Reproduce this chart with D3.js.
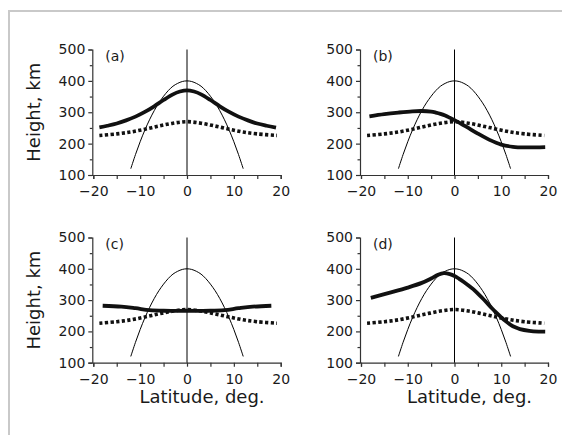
<!DOCTYPE html>
<html><head><meta charset="utf-8">
<script src="https://cdn.jsdelivr.net/npm/d3@7"></script>
<style>
html,body{margin:0;padding:0;background:#fff;}
svg{display:block;}
text{font-family:"DejaVu Sans",sans-serif;fill:#1a1a1a;}
</style></head>
<body>
<svg id="chart" width="562" height="435"></svg>
<script>
// ---------- data ----------
const latTicks = [-20, -10, 0, 10, 20];
const latMinorTicks = [-20, -15, -10, -5, 0, 5, 10, 15, 20];
const heightTicks = [100, 200, 300, 400, 500];
const heightMinorTicks = [150, 250, 350, 450];
const panelLabels = ["(a)", "(b)", "(c)", "(d)"];

// thin parabola (same in all panels)
const parabolaLat = [-12,-11,-10,-9,-8,-7,-6,-5,-4,-3,-2,-1,0,1,2,3,4,5,6,7,8,9,10,11,12];
const parabolaH   = [120,165,206,243,276,305,330,351,369,383,392,398,400,398,392,383,369,351,330,305,276,243,206,165,120];

// dotted reference curve (same in all panels)
const dottedLat = [-18.7,-15,-12,-9,-6,-3,0,3,6,9,12,15,19.2];
const dottedH   = [226,231,237,246,256,265,270,265,256,246,237,231,226];

// thick solid curves
const solidLatA = [-18.7,-17,-15,-13,-11,-9,-7,-5,-3,-1.5,0,1.5,3,5,7,9,11,13,15,17,19];
const solidHA   = [252,257,264,274,286,301,319,339,357,366,370,366,357,339,319,301,286,274,264,257,251];
const solidLatB = [-18.2,-15,-12,-9,-7,-5,-4,-3,-2,-1,0,2.5,5,7.5,10,12.5,15,19.4];
const solidHB   = [287,294,299,303,304,302,299,295,289.5,282.5,275,254,232,212,197,190,188,189];
const solidLatC = [-18,-14,-11,-8,-5,0,5,8,11,14,18];
const solidHC   = [282,279,274,268,266,266,266,268,274,279,282];
const solidLatD = [-17.9,-14,-10,-7,-5,-3.5,-2.3,-1,0,1,2,3,4,5,6,7,8,9,10,11,12,13,14,16,18,19.4];
const solidHD   = [307,323,340,355,369,381,386,383,377,368,358,347,335,321,306,290,274,259,245,232,221,213,207.5,202,199.5,199];

const solidLat = [solidLatA, solidLatB, solidLatC, solidLatD];
const solidH = [solidHA, solidHB, solidHC, solidHD];

// ---------- layout ----------
const svg = d3.select("#chart");
const colX = [[93.3, 280.7], [361, 548]];
const rowY = [[175, 49.5], [362.7, 237.5]];

// frame
svg.append("path")
  .attr("d", "M9,440 L9,11 L570,11")
  .attr("fill", "none").attr("stroke", "#c9c9c9").attr("stroke-width", 2);

const axisColor = "#333";

for (let p = 0; p < 4; p++) {
  const col = p % 2, row = Math.floor(p / 2);
  const x = d3.scaleLinear().domain([-20, 20]).range(colX[col]);
  const y = d3.scaleLinear().domain([100, 500]).range(rowY[row]);
  const g = svg.append("g");

  // x axis
  const xa = g.append("g").attr("transform", `translate(0,${y(100)})`)
    .call(d3.axisBottom(x).tickValues(latMinorTicks).tickSize(4).tickFormat(""));
  xa.select(".domain").attr("stroke", axisColor).attr("stroke-width", 1.2);
  xa.selectAll(".tick line").attr("stroke", axisColor).attr("stroke-width", 1.2);
  g.append("g").attr("transform", `translate(0,${y(100)})`)
    .call(d3.axisBottom(x).tickValues(latTicks).tickSize(0).tickPadding(11)
      .tickFormat(d => d < 0 ? "\u2212" + Math.abs(d) : d))
    .call(s => s.select(".domain").remove())
    .selectAll("text").style("font-size", "14px").style("font-family", "DejaVu Sans").attr("fill", "#1a1a1a");

  // y axis
  const ya = g.append("g").attr("transform", `translate(${x(-20) - 1},0)`)
    .call(d3.axisLeft(y).tickValues(heightTicks).tickSize(4).tickPadding(3));
  ya.select(".domain").attr("stroke", axisColor).attr("stroke-width", 1.2);
  ya.selectAll(".tick line").attr("stroke", axisColor).attr("stroke-width", 1.2);
  ya.selectAll("text").style("font-size", "14px").style("font-family", "DejaVu Sans").attr("fill", "#1a1a1a");
  const yam = g.append("g").attr("transform", `translate(${x(-20) - 1},0)`)
    .call(d3.axisLeft(y).tickValues(heightMinorTicks).tickSize(2.5).tickFormat(""));
  yam.select(".domain").remove();
  yam.selectAll(".tick line").attr("stroke", axisColor).attr("stroke-width", 1.2);

  // vertical line at 0
  g.append("line").attr("x1", x(0)).attr("x2", x(0)).attr("y1", y(500)).attr("y2", y(100))
    .attr("stroke", "#000").attr("stroke-width", 1);

  const line = d3.line().x(d => x(d[0])).y(d => y(d[1])).curve(d3.curveCatmullRom.alpha(0.5));

  // parabola
  g.append("path").datum(parabolaLat.map((v, i) => [v, parabolaH[i]]))
    .attr("d", line).attr("fill", "none").attr("stroke", "#000").attr("stroke-width", 1);

  // dotted
  g.append("path").datum(dottedLat.map((v, i) => [v, dottedH[i]]))
    .attr("d", line).attr("fill", "none").attr("stroke", "#111").attr("stroke-width", 3.6)
    .attr("stroke-dasharray", "3.2,2.4");

  // solid
  g.append("path").datum(solidLat[p].map((v, i) => [v, solidH[p][i]]))
    .attr("d", line).attr("fill", "none").attr("stroke", "#111").attr("stroke-width", 3.8)
    .attr("stroke-linecap", "butt");

  // panel label
  g.append("text").attr("x", x(-20) + 12).attr("y", y(500) + 11)
    .style("font-size", "14px").text(panelLabels[p]);

  // axis titles
  if (col === 0) {
    g.append("text")
      .attr("transform", `translate(40,${(y(100) + y(500)) / 2}) rotate(-90)`)
      .attr("text-anchor", "middle").style("font-size", "18px").text("Height, km");
  }
  if (row === 1) {
    g.append("text").attr("x", x(0) + 15).attr("y", 403)
      .attr("text-anchor", "middle").style("font-size", "18px").text("Latitude, deg.");
  }
}
</script>
</body></html>
